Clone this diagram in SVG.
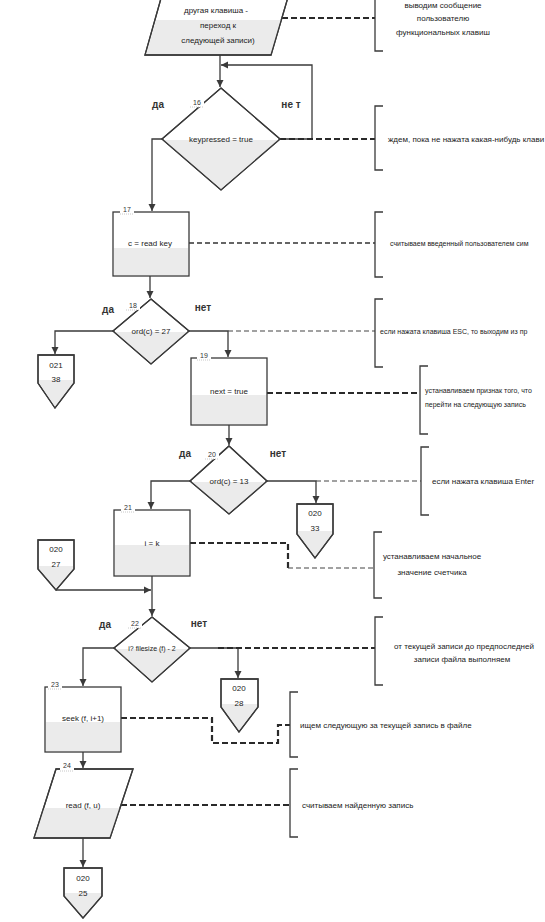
<svg xmlns="http://www.w3.org/2000/svg" width="545" height="922" viewBox="0 0 545 922">
<style>
.s{fill:#fff;stroke:#3a3a3a;stroke-width:1.3}
.sh{fill:#ebebeb;stroke:none}
.o{fill:none;stroke:#3a3a3a;stroke-width:1.3}
.c{fill:none;stroke:#3a3a3a;stroke-width:1.3}
.dk{fill:none;stroke:#2a2a2a;stroke-width:2.2;stroke-dasharray:6 3}
.dm{fill:none;stroke:#333;stroke-width:1.6;stroke-dasharray:5 3}
.dt{fill:none;stroke:#444;stroke-width:1.1;stroke-dasharray:5 3}
.br{fill:none;stroke:#3a3a3a;stroke-width:1.3}
.t{font-family:"Liberation Sans",Arial,sans-serif;font-size:8px;fill:#222;text-anchor:middle}
.tl{font-family:"Liberation Sans",Arial,sans-serif;font-size:8px;fill:#222}
.ts{font-family:"Liberation Sans",Arial,sans-serif;font-size:7px;fill:#222}
.n{font-family:"Liberation Sans",Arial,sans-serif;font-size:7px;fill:#333;text-anchor:middle}
.y{font-family:"Liberation Sans",Arial,sans-serif;font-size:10px;font-weight:bold;fill:#333;text-anchor:middle}
.tab{fill:#fff;stroke:none}
.tabl{stroke:#c8c8c8;stroke-width:1;stroke-dasharray:1 1}
</style>
<defs>
<marker id="a" markerWidth="8" markerHeight="8" refX="7" refY="4" orient="auto" markerUnits="userSpaceOnUse">
<path d="M0,0.5 L7,4 L0,7.5 Z" fill="#3a3a3a"/>
</marker>
</defs>
<rect width="545" height="922" fill="#fff"/>

<g id="connectors">
<path class="c" d="M220,55 V87" marker-end="url(#a)"/>
<path class="c" d="M280,139 H312 V65 H221" marker-end="url(#a)"/>
<path class="c" d="M162,139 H152 V211" marker-end="url(#a)"/>
<path class="c" d="M150,276 V298" marker-end="url(#a)"/>
<path class="c" d="M113,331 H55 V354" marker-end="url(#a)"/>
<path class="c" d="M189,331 H228 V357" marker-end="url(#a)"/>
<path class="c" d="M229,425 V445" marker-end="url(#a)"/>
<path class="c" d="M190,481 H151 V509" marker-end="url(#a)"/>
<path class="c" d="M267,481 H316 V503" marker-end="url(#a)"/>
<path class="c" d="M152,576 V616" marker-end="url(#a)"/>
<path class="c" d="M56,590 H151" marker-end="url(#a)"/>
<path class="c" d="M114,648 H83 V686" marker-end="url(#a)"/>
<path class="c" d="M190,648 H238 V678" marker-end="url(#a)"/>
<path class="c" d="M83,752 V768" marker-end="url(#a)"/>
<path class="c" d="M83,838 V867" marker-end="url(#a)"/>
<path class="dk" d="M282,18 H375"/>
<path class="dk" d="M280,139 H375"/>
<path class="dm" d="M189,243 H375"/>
<path class="dt" d="M228,331 H375"/>
<path class="dk" d="M267,393 H420"/>
<path class="dt" d="M316,481 H421"/>
<path class="dk" d="M190,543 H288 V568"/>
<path class="dt" d="M288,568 H374"/>
<path class="dk" d="M218,648 H375"/>
<path class="dk" d="M121,718 H212 V743 H278 V725 H290"/>
<path class="dk" d="M121,805 H290"/>
</g>

<g id="node15">
<polygon class="s" points="169,-30 296,-30 271,55 145,55"/>
<polygon class="sh" points="156,20 281,20 271,54 146,54"/>
<polygon class="o" points="169,-30 296,-30 271,55 145,55"/>
<text class="t" x="216" y="13">другая клавиша -</text>
<text class="t" x="218" y="28">переход к</text>
<text class="t" x="218" y="43">следующей записи)</text>
</g>
<g id="note15">
<path class="br" d="M383,-5 H375 V51 H383"/>
<text class="t" x="443" y="8">выводим сообщение</text>
<text class="t" x="443" y="21">пользователю</text>
<text class="t" x="443" y="35">функциональных клавиш</text>
</g>

<g id="node16">
<polygon class="s" points="221,88 280,139 221,190 162,139"/>
<polygon class="sh" points="163,140 279,140 221,189"/>
<polygon class="o" points="221,88 280,139 221,190 162,139"/>
<text class="t" x="221" y="142">keypressed = true</text>
<rect class="tab" x="190" y="98" width="14" height="9"/>
<line class="tabl" x1="190" y1="107" x2="204" y2="107"/>
<text class="n" x="197" y="105">16</text>
<text class="y" x="158" y="108">да</text>
<text class="y" x="291" y="108">не т</text>
</g>
<g id="note16">
<path class="br" d="M383,106 H375 V170 H383"/>
<text class="tl" x="388" y="142">ждем, пока не нажата какая-нибудь клави</text>
</g>

<g id="node17">
<rect class="s" x="113" y="212" width="76" height="64"/>
<rect class="sh" x="114" y="248" width="74" height="27"/>
<text class="t" x="150" y="246">c = read key</text>
<rect class="tab" x="120" y="205" width="14" height="9"/>
<line class="tabl" x1="120" y1="214" x2="134" y2="214"/>
<text class="n" x="127" y="212">17</text>
</g>
<g id="note17">
<path class="br" d="M383,212 H375 V277 H383"/>
<text class="ts" x="390" y="246">считываем введенный пользователем сим</text>
</g>

<g id="node18">
<polygon class="s" points="151,299 189,331 151,364 113,331"/>
<polygon class="sh" points="114,332 188,332 151,363"/>
<polygon class="o" points="151,299 189,331 151,364 113,331"/>
<text class="t" x="151" y="334">ord(c) = 27</text>
<rect class="tab" x="126" y="301" width="14" height="9"/>
<line class="tabl" x1="126" y1="310" x2="140" y2="310"/>
<text class="n" x="133" y="308">18</text>
<text class="y" x="108" y="313">да</text>
<text class="y" x="203" y="311">нет</text>
</g>
<g id="note18">
<path class="br" d="M383,299 H375 V367 H383"/>
<text class="ts" x="380" y="334">если нажата клавиша ESC, то выходим из пр</text>
</g>

<g id="conn38">
<polygon class="s" points="38,355 74,355 74,383 55,408 38,383"/>
<polygon class="sh" points="39,380 73,380 73,383 55,407 39,383"/>
<polygon class="o" points="38,355 74,355 74,383 55,408 38,383"/>
<text class="t" x="56" y="368">021</text>
<text class="t" x="56" y="382">38</text>
</g>

<g id="node19">
<rect class="s" x="191" y="358" width="76" height="67"/>
<rect class="sh" x="192" y="395" width="74" height="29"/>
<text class="t" x="229" y="394">next = true</text>
<rect class="tab" x="197" y="351" width="14" height="9"/>
<line class="tabl" x1="197" y1="360" x2="211" y2="360"/>
<text class="n" x="204" y="358">19</text>
</g>
<g id="note19">
<path class="br" d="M428,366 H420 V434 H428"/>
<text class="ts" x="425" y="393">устанавливаем признак того, что</text>
<text class="ts" x="425" y="407">перейти на следующую запись</text>
</g>

<g id="node20">
<polygon class="s" points="229,446 267,481 229,514 190,481"/>
<polygon class="sh" points="191,482 266,482 229,513"/>
<polygon class="o" points="229,446 267,481 229,514 190,481"/>
<text class="t" x="229" y="484">ord(c) = 13</text>
<rect class="tab" x="205" y="450" width="14" height="9"/>
<line class="tabl" x1="205" y1="459" x2="219" y2="459"/>
<text class="n" x="212" y="457">20</text>
<text class="y" x="185" y="457">да</text>
<text class="y" x="278" y="457">нет</text>
</g>
<g id="note20">
<path class="br" d="M429,447 H421 V515 H429"/>
<text class="tl" x="432" y="484">если нажата клавиша Enter</text>
</g>

<g id="conn33">
<polygon class="s" points="297,504 333,504 333,534 315,558 297,534"/>
<polygon class="sh" points="298,531 332,531 332,534 315,557 298,534"/>
<polygon class="o" points="297,504 333,504 333,534 315,558 297,534"/>
<text class="t" x="315" y="516">020</text>
<text class="t" x="315" y="531">33</text>
</g>

<g id="node21">
<rect class="s" x="114" y="510" width="76" height="66"/>
<rect class="sh" x="115" y="545" width="74" height="30"/>
<text class="t" x="152" y="546">i = k</text>
<rect class="tab" x="121" y="503" width="14" height="9"/>
<line class="tabl" x1="121" y1="512" x2="135" y2="512"/>
<text class="n" x="128" y="510">21</text>
</g>
<g id="note21">
<path class="br" d="M382,532 H374 V598 H382"/>
<text class="t" x="432" y="559">устанавливаем начальное</text>
<text class="t" x="432" y="575">значение счетчика</text>
</g>

<g id="conn27">
<polygon class="s" points="38,540 74,540 74,569 56,590 38,569"/>
<polygon class="sh" points="39,566 73,566 73,569 56,589 39,569"/>
<polygon class="o" points="38,540 74,540 74,569 56,590 38,569"/>
<text class="t" x="56" y="552">020</text>
<text class="t" x="56" y="567">27</text>
</g>

<g id="node22">
<polygon class="s" points="152,617 190,648 152,682 114,648"/>
<polygon class="sh" points="115,649 189,649 152,681"/>
<polygon class="o" points="152,617 190,648 152,682 114,648"/>
<text class="t" x="152" y="651" style="font-size:7px">i? filesize (f) - 2</text>
<rect class="tab" x="128" y="619" width="14" height="9"/>
<line class="tabl" x1="128" y1="628" x2="142" y2="628"/>
<text class="n" x="135" y="626">22</text>
<text class="y" x="105" y="628">да</text>
<text class="y" x="199" y="627">нет</text>
</g>
<g id="note22">
<path class="br" d="M383,617 H375 V685 H383"/>
<text class="t" x="464" y="649">от текущей записи до предпоследней</text>
<text class="t" x="462" y="662">записи файла выполняем</text>
</g>

<g id="conn28">
<polygon class="s" points="221,679 258,679 258,707 239,732 221,707"/>
<polygon class="sh" points="222,704 257,704 257,707 239,731 222,707"/>
<polygon class="o" points="221,679 258,679 258,707 239,732 221,707"/>
<text class="t" x="239" y="691">020</text>
<text class="t" x="239" y="706">28</text>
</g>

<g id="node23">
<rect class="s" x="45" y="687" width="76" height="65"/>
<rect class="sh" x="46" y="722" width="74" height="29"/>
<text class="t" x="83" y="721">seek (f, i+1)</text>
<rect class="tab" x="48" y="680" width="14" height="9"/>
<line class="tabl" x1="48" y1="689" x2="62" y2="689"/>
<text class="n" x="55" y="687">23</text>
</g>
<g id="note23">
<path class="br" d="M298,692 H290 V757 H298"/>
<text class="tl" x="300" y="728">ищем следующую за текущей запись в файле</text>
</g>

<g id="node24">
<polygon class="s" points="56,769 133,769 110,838 34,838"/>
<polygon class="sh" points="44,808 120,808 110,837 35,837"/>
<polygon class="o" points="56,769 133,769 110,838 34,838"/>
<text class="t" x="83" y="808">read (f, u)</text>
<rect class="tab" x="60" y="762" width="14" height="9"/>
<line class="tabl" x1="60" y1="771" x2="74" y2="771"/>
<text class="n" x="67" y="768">24</text>
</g>
<g id="note24">
<path class="br" d="M298,769 H290 V837 H298"/>
<text class="tl" x="302" y="808">считываем найденную запись</text>
</g>

<g id="conn25">
<polygon class="s" points="64,868 102,868 102,896 83,918 64,896"/>
<polygon class="sh" points="65,893 101,893 101,896 83,917 65,896"/>
<polygon class="o" points="64,868 102,868 102,896 83,918 64,896"/>
<text class="t" x="83" y="881">020</text>
<text class="t" x="83" y="896">25</text>
</g>
</svg>
